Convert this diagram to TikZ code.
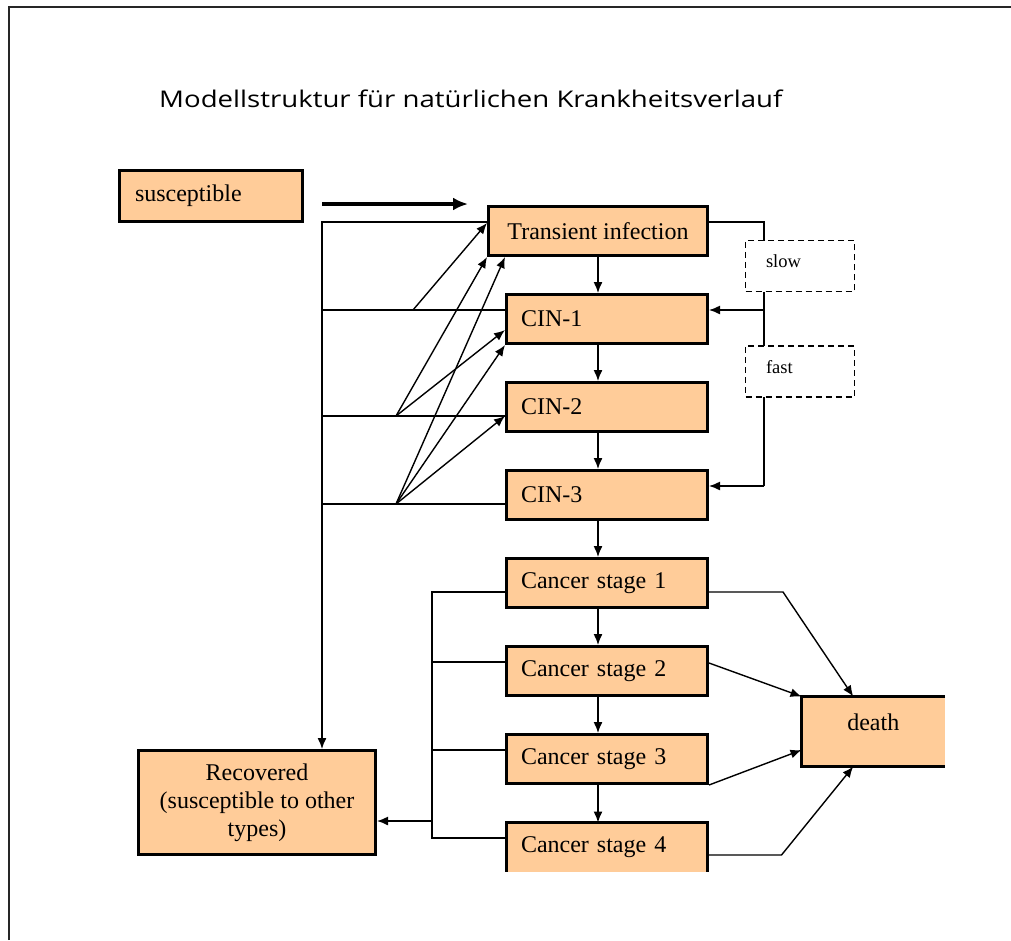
\documentclass[tikz,border=0pt]{standalone}
\usepackage{fontspec}
\setmainfont{Liberation Serif}
\newfontfamily\titlefont[FakeStretch=1.2]{Open Sans}
\usepackage{tikz}
\usetikzlibrary{arrows.meta, positioning}
\definecolor{peach}{RGB}{255,204,153}
\tikzstyle{compartment} = [rectangle, draw=black, line width=3pt, fill=peach, minimum height=49pt, font=\fontsize{24}{28}\selectfont]
\tikzstyle{stage} = [compartment, minimum width=201pt, text width=172pt, inner xsep=14.5pt, align=left]
\tikzstyle{rate} = [rectangle, draw=black, dash pattern=on 6pt off 4pt, line width=1.2pt, fill=white, text width=68pt, inner xsep=20.4pt, minimum height=51pt, align=left, text depth=10pt, font=\fontsize{18.5}{22}\selectfont]
\tikzstyle{border} = [line width=3pt]
\tikzstyle{link} = [line width=1.4pt]
\tikzstyle{arrow} = [link, -{Latex[length=11pt,width=9pt]}]
\tikzstyle{bigarrow} = [line width=4.5pt, -{Latex[length=15pt,width=13pt]}]

\begin{document}
\begin{tikzpicture}[x=1pt, y=-1pt]
        \useasboundingbox (0,0) rectangle (1011,940);
        \draw [line width=2.2pt, black!85] (9,940) -- (9,7) -- (1011,7);

        \node (title) [anchor=base west, inner xsep=0pt, font=\titlefont\fontsize{23}{27}\selectfont] at (159,107) {Modellstruktur für natürlichen Krankheitsverlauf};

        \node (susc) [compartment, minimum width=183pt, minimum height=51pt, text width=152pt, inner xsep=15.5pt, align=left] at (211,196) {susceptible};
        \node (trans) [compartment, minimum width=219pt, align=center] at (598,231) {Transient infection};
        \node (cin1) [stage, below=36pt of trans.south east, anchor=north east] {CIN-1};
        \node (cin2) [stage, below=36pt of cin1] {CIN-2};
        \node (cin3) [stage, below=36pt of cin2] {CIN-3};
        \node (cs1) [stage, below=36pt of cin3] {Cancer stage 1};
        \node (cs2) [stage, below=36pt of cs1] {Cancer stage 2};
        \node (cs3) [stage, below=36pt of cs2] {Cancer stage 3};
        \node (cs4) [stage, draw=none, outer sep=0pt, below=37.5pt of cs3] {Cancer stage 4};
        \draw [border] (cs4.south west) -- (cs4.north west) -- (cs4.north east) -- (cs4.south east);
        \node (death) [compartment, draw=none, outer sep=0pt, minimum width=143.5pt, minimum height=70pt, text depth=19pt] at (873.25,731.5) {death};
        \draw [border] (death.north east) -- (death.north west) -- (death.south west) -- (death.south east);
        \node (recov) [compartment, minimum width=237pt, minimum height=104pt, align=center] at (257,802.5) {Recovered\\(susceptible to other\\types)};

        \coordinate (rail) at (322,222);
        \coordinate (bus) at (764,222);
        \coordinate (brk) at (432,592);
        \coordinate (fan1) at (413,310);
        \coordinate (fan2) at (396,416);
        \coordinate (fan3) at (396,504);

        \draw [bigarrow] ([yshift=-8pt]susc.east -| rail) -- ++(146,0);

        % clearance back to recovered
        \draw [arrow] ([yshift=9pt]trans.west) -- (rail) -- (rail |- recov.north);
        \draw [link] ([yshift=9pt]cin1.west) -- ([yshift=9pt]cin1.west -| rail);
        \draw [link] ([yshift=-9pt]cin2.west) -- ([yshift=-9pt]cin2.west -| rail);
        \draw [link] ([yshift=-9pt]cin3.west) -- ([yshift=-9pt]cin3.west -| rail);

        % regression
        \draw [arrow] (fan1) -- ([yshift=8pt]trans.west);
        \draw [arrow] (fan2) -- (trans.south west);
        \draw [arrow] (fan2) -- ([yshift=-11pt]cin1.west);
        \draw [arrow] (fan3) -- ([xshift=18pt]trans.south west);
        \draw [arrow] (fan3) -- (cin1.south west);
        \draw [arrow] (fan3) -- ([yshift=-9pt]cin2.west);

        % slow / fast progression
        \draw [link] ([yshift=9pt]trans.east) -- (bus) -- ([yshift=9pt]cin3.east -| bus);
        \draw [arrow] ([yshift=9pt]cin1.east -| bus) -- ([yshift=9pt]cin1.east);
        \draw [arrow] ([yshift=9pt]cin3.east -| bus) -- ([yshift=9pt]cin3.east);
        \node (slow) [rate] at (800,266) {slow};
        \node (fast) [rate] at (800,371.5) {fast};

        \draw [arrow] (trans.south) -- (trans.south |- cin1.north);
        \draw [arrow] (cin1.south -| trans.south) -- (cin2.north -| trans.south);
        \draw [arrow] (cin2.south -| trans.south) -- (cin3.north -| trans.south);
        \draw [arrow] (cin3.south -| trans.south) -- (cs1.north -| trans.south);
        \draw [arrow] (cs1.south -| trans.south) -- (cs2.north -| trans.south);
        \draw [arrow] (cs2.south -| trans.south) -- (cs3.north -| trans.south);
        \draw [arrow] (cs3.south -| trans.south) -- (cs4.north -| trans.south);

        % cancer treated
        \draw [link] ([yshift=-9pt]cs1.west) -- ([yshift=-9pt]cs1.west -| brk) -- ([yshift=9pt]cs4.west -| brk) -- ([yshift=9pt]cs4.west);
        \draw [link] ([yshift=9pt]cs2.west) -- ([yshift=9pt]cs2.west -| brk);
        \draw [link] ([yshift=9pt]cs3.west) -- ([yshift=9pt]cs3.west -| brk);
        \draw [arrow] ([yshift=-18.5pt]recov.east -| brk) -- ([yshift=-18.5pt]recov.east);

        % cancer death
        \draw [arrow] ([yshift=-9pt]cs1.east) -- ++(74,0) -- ([xshift=-20pt]death.north);
        \draw [arrow] ([yshift=8pt]cs2.east) -- (death.north west);
        \draw [arrow] (cs3.south east) -- ([yshift=-18.5pt]death.west);
        \draw [arrow] ([yshift=-8pt]cs4.east) -- ++(74,0) -- ([xshift=-20pt]death.south);
\end{tikzpicture}
\end{document}
